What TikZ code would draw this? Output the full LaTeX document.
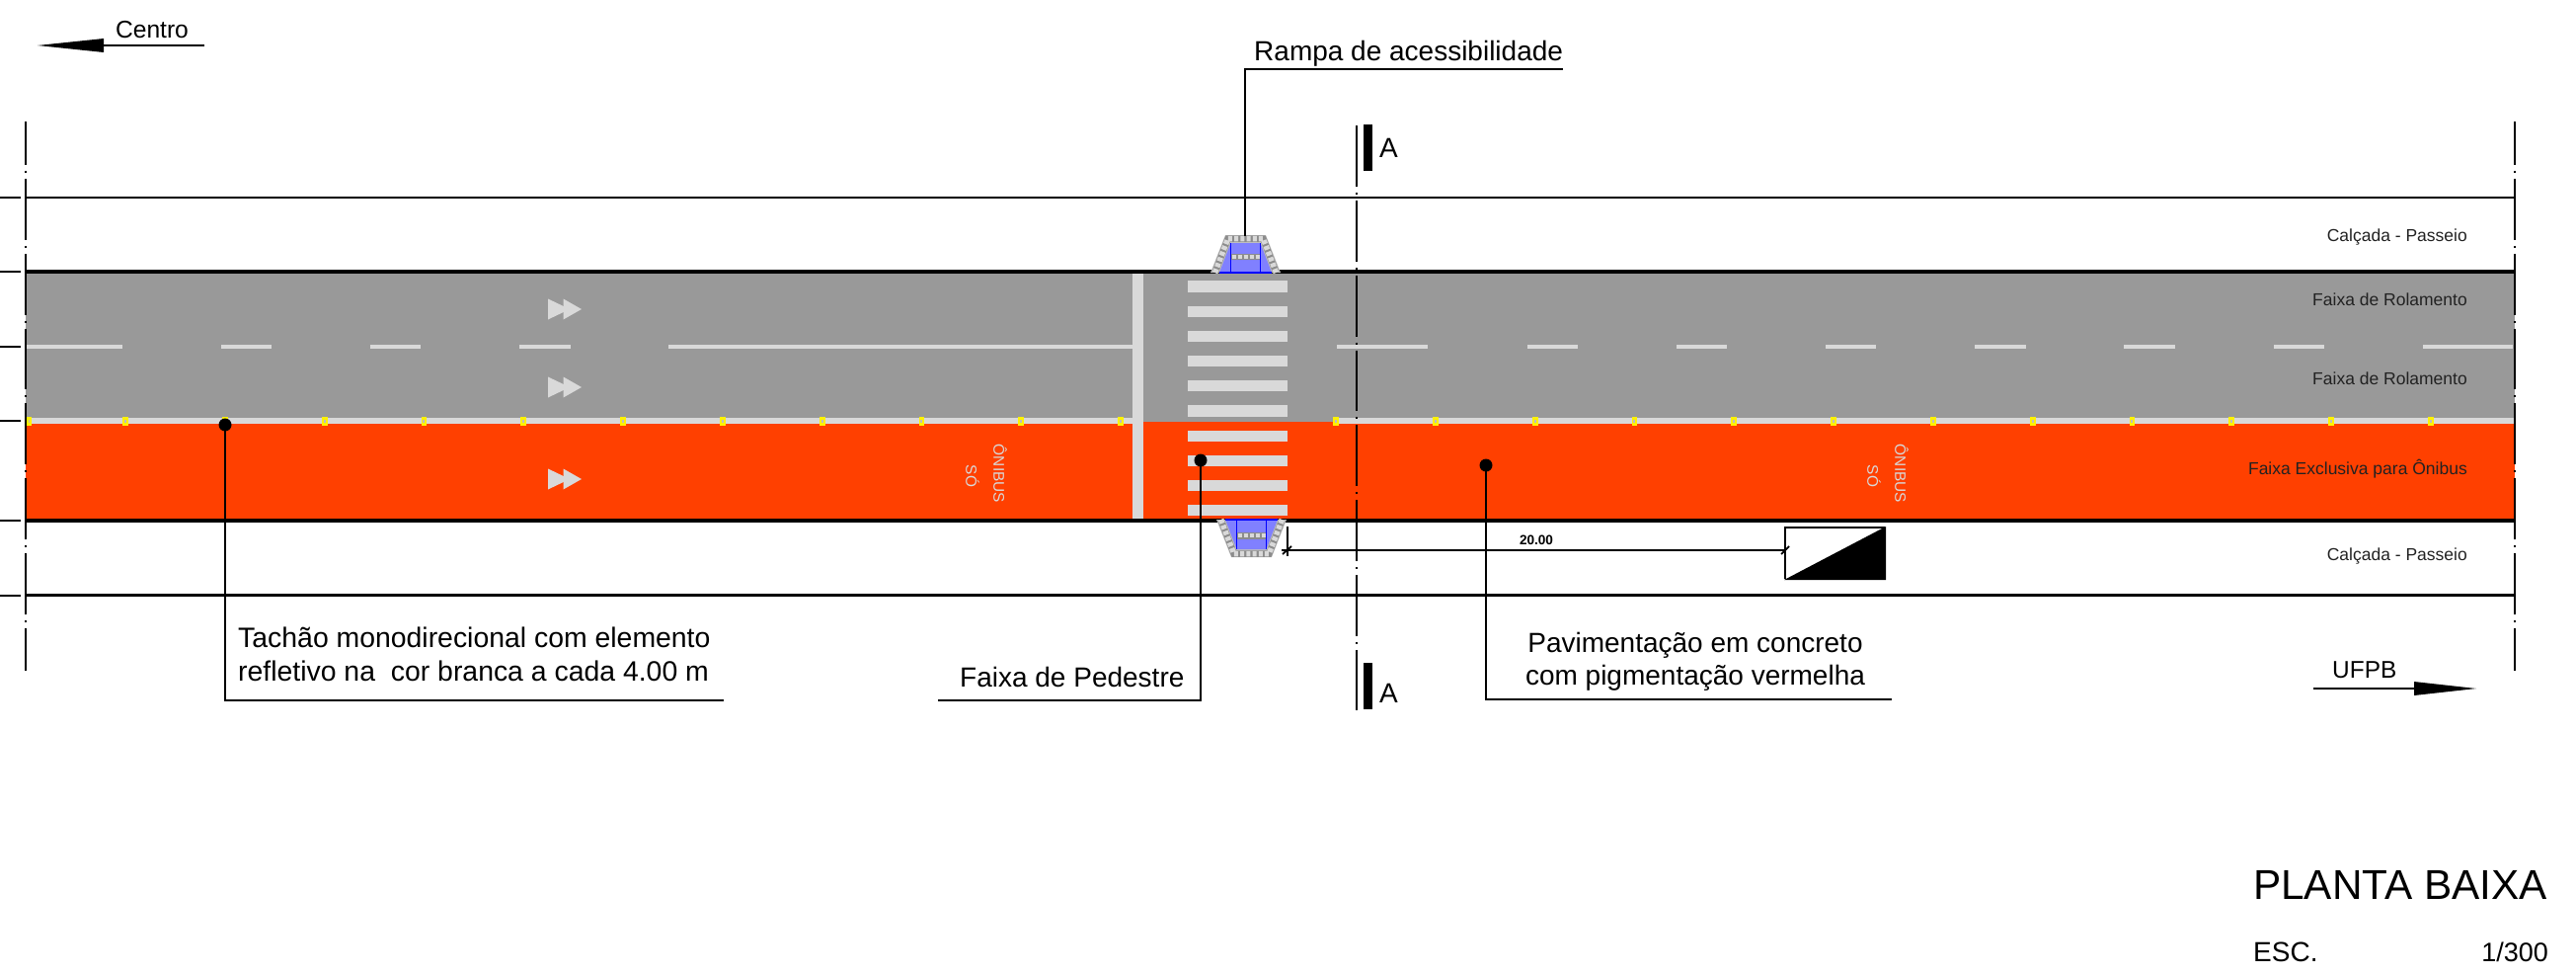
\documentclass[tikz,border=0pt]{standalone}
\usepackage{fontspec}
\setmainfont{Liberation Sans}
\definecolor{asfalto}{HTML}{999999}
\definecolor{onibus}{HTML}{FF4000}
\definecolor{marca}{HTML}{D9D9D9}
\definecolor{rampa}{HTML}{8080FF}
\definecolor{textoesc}{HTML}{222222}
\tikzset{
  thinline/.style={line width=2.2pt,black},
  kerbline/.style={line width=4pt,black},
  leader/.style={line width=1.8pt,black},
  axisline/.style={line width=2pt,black},
  dashmark/.style={line width=4pt,marca},
  sepmark/.style={line width=6.5pt,marca},
  bigtext/.style={inner sep=0pt,font=\fontsize{28}{33}\selectfont},
  tachtext/.style={inner sep=0pt,font=\fontsize{28.4}{33}\selectfont},
  smalltext/.style={inner sep=0pt,anchor=base east,text=textoesc,font=\fontsize{17.5}{20}\selectfont},
  rotext/.style={inner sep=0pt,rotate=-90,text=marca,font=\fontsize{15.4}{18}\selectfont},
  rampa shape/.pic={
    \fill[marca!70!gray] (-35.5,0) -- (-20.5,-38) -- (20.5,-38) -- (35.5,0) -- cycle;
    \fill[rampa] (-26.5,0) -- (-15,-30) -- (15,-30) -- (26.5,0) -- cycle;
    \draw[line width=6.5pt,gray!90] (-31,0) -- (-17.8,-34.5) -- (17.8,-34.5) -- (31,0);
    \draw[line width=5.5pt,marca,dash pattern=on 4pt off 2.2pt] (-31,0) -- (-17.8,-34.5) -- (17.8,-34.5) -- (31,0);
    \fill[gray!90] (-15,-19.5) rectangle (15,-13);
    \draw[line width=4.5pt,marca,dash pattern=on 4pt off 2pt] (-14,-16.2) -- (15,-16.2);
    \draw[line width=1.8pt,blue] (-15,0) -- (-15,-30) (15,0) -- (15,-30) (-26.5,0) -- (26.5,0);
  }
}
\begin{document}
\begin{tikzpicture}[x=1pt,y=-1pt]
\useasboundingbox (0,0) rectangle (2609,987);
% road surfaces
\fill[asfalto] (26,275) rectangle (2547,427);
\fill[onibus] (26,427) rectangle (2547,527);
% centre dashes
\foreach \a/\b in {27/124,224/275,375/426,526/578,677/1147,1354/1446,1547/1598,1698/1749,1849/1900,2000/2052,2151/2203,2303/2354,2454/2545}
  \draw[dashmark] (\a,351) -- (\b,351);
% separator of the bus lane
\draw[sepmark] (26,426) -- (1147,426);
\draw[sepmark] (1353,426) -- (2547,426);
% stop bar
\fill[marca] (1147,275) rectangle (1158,527);
% pedestrian crossing
\foreach \k in {0,...,9}
  \fill[marca] (1203,284.3+25.2*\k) rectangle (1304,295.5+25.2*\k);
% studs
\foreach \k in {0,...,10} {
  \fill[yellow] (1135-100.8*\k-2.9,422) rectangle (1135-100.8*\k+2.9,430.5);
  \fill[marca!70!gray] (1135-100.8*\k-1,424.5) rectangle (1135-100.8*\k+1,428);
}
\fill[yellow] (26.5,422) rectangle (32,430.5);
\fill[marca!70!gray] (28.5,424.5) rectangle (30.3,428);
\foreach \k in {0,...,11} {
  \fill[yellow] (1353+100.8*\k-2.9,422) rectangle (1353+100.8*\k+2.9,430.5);
  \fill[marca!70!gray] (1353+100.8*\k-1,424.5) rectangle (1353+100.8*\k+1,428);
}
% lane chevrons
\foreach \y in {313,392,485} {
  \fill[marca] (555,\y-10.5) -- (577,\y) -- (555,\y+10.5) -- cycle;
  \fill[marca] (570.5,\y-10.5) -- (589,\y) -- (570.5,\y+10.5) -- cycle;
}
% bus-lane words
\node[rotext] (onibusA) at (1013,479.5) {ÔNIBUS};
\node[rotext] (soA) at (985,482) {SÓ};
\node[rotext] (onibusB) at (1926,479.5) {ÔNIBUS};
\node[rotext] (soB) at (1898,482) {SÓ};
% kerbs and sidewalks
\draw[kerbline] (26,275) -- (2547,275);
\draw[kerbline] (26,527) -- (2547,527);
\draw[thinline] (26,200) -- (2547,200);
\draw[thinline] (26,602.5) -- (2547,602.5);
% ramps
\pic at (1261.5,276) {rampa shape};
\pic[yscale=-1] at (1267.5,526) {rampa shape};
% axis ticks
\foreach \y in {200,275,351,426,527,602.5}
  \draw[axisline] (0,\y) -- (21,\y);
% axis lines
\foreach \x in {26,2547}
  \draw[axisline,dash pattern=on 61.8pt off 6pt on 2pt off 6pt,dash phase=17.8pt] (\x,123) -- (\x,679);
\draw[axisline,dash pattern=on 61.8pt off 6pt on 2pt off 6pt] (1373.5,127.2) -- (1373.5,719);
% section marks
\fill (1380.5,126) rectangle (1389.5,173);
\fill (1380.5,671) rectangle (1389.5,718);
\node[bigtext,anchor=base west] (secA) at (1397,159.5) {A};
\node[bigtext,anchor=base west] (secB) at (1397,711.5) {A};
% direction arrows
\node[inner sep=0pt,anchor=base,font=\fontsize{24.6}{28}\selectfont] (centro) at (154,38.5) {Centro};
\coordinate (centroTail) at (207,46);
\coordinate (centroBase) at (105,46);
\draw[leader] (centroTail) -- (centroBase);
\fill (38,46) -- (105,39) -- (105,53) -- cycle;
\node[inner sep=0pt,anchor=base west,font=\fontsize{24.4}{28}\selectfont] (ufpb) at (2362,686) {UFPB};
\coordinate (ufpbTail) at (2343,697);
\coordinate (ufpbBase) at (2445,697);
\draw[leader] (ufpbTail) -- (ufpbBase);
\fill (2508,697) -- (2445,690) -- (2445,704) -- cycle;
% lane names
\node[smalltext] (calcadaA) at (2499,244) {Calçada - Passeio};
\node[smalltext] (rolA) at (2499,309) {Faixa de Rolamento};
\node[smalltext] (rolB) at (2499,389) {Faixa de Rolamento};
\node[smalltext] (excl) at (2499,480) {Faixa Exclusiva para Ônibus};
\node[smalltext] (calcadaB) at (2499,567) {Calçada - Passeio};
% callouts
\node[bigtext,anchor=base west] (ramptxt) at (1270,62) {Rampa de acessibilidade};
\coordinate (rampEnd) at (1583,70);
\coordinate (rampKnee) at (1261,70);
\coordinate (rampFoot) at (1261,239);
\draw[leader] (rampEnd) -- (rampKnee) -- (rampFoot);
\node[tachtext,anchor=base west] (tachaoA) at (241,655) {Tachão monodirecional com elemento};
\node[tachtext,anchor=base west] (tachaoB) at (241,689) {refletivo na\ \ cor branca a cada 4.00 m};
\coordinate (tachaoDot) at (228,430);
\coordinate (tachaoEnd) at (733,709);
\fill (tachaoDot) circle (6.5);
\draw[leader] (tachaoDot) |- (tachaoEnd);
\node[bigtext,anchor=base west] (pedtxt) at (972,695) {Faixa de Pedestre};
\coordinate (pedDot) at (1216,466);
\coordinate (pedEnd) at (950,709);
\fill (pedDot) circle (6.5);
\draw[leader] (pedDot) |- (pedEnd);
\node[bigtext,anchor=base] (pavA) at (1717,660) {Pavimentação em concreto};
\node[bigtext,anchor=base] (pavB) at (1717,693) {com pigmentação vermelha};
\coordinate (pavDot) at (1505,471);
\coordinate (pavEnd) at (1916,708);
\fill (pavDot) circle (6.5);
\draw[leader] (pavDot) |- (pavEnd);
% dimension and slope box
\coordinate (dimL) at (1304,557);
\coordinate (dimR) at (1808,557);
\draw[leader] (dimL) ++(-6,0) -- (dimR);
\draw[leader] (1304,533) -- (1304,563);
\draw[leader] (1299,561) -- (1308,553);
\draw[leader] (1804,561) -- (1812,553);
\node[inner sep=0pt,anchor=base,font=\fontsize{13.6}{16}\selectfont\bfseries] (dimtxt) at (1556,551) {20.00};
\draw[line width=2pt] (1909,534) -- (1808,534) -- (1808,586);
\fill (1807,587) -- (1910,533) -- (1910,587) -- cycle;
% title block
\node[inner sep=0pt,anchor=base west,font=\fontsize{42.3}{48}\selectfont] (titulo) at (2282,910) {PLANTA BAIXA};
\node[inner sep=0pt,anchor=base west,font=\fontsize{28}{32}\selectfont] (esc) at (2282,973) {ESC.};
\node[inner sep=0pt,anchor=base east,font=\fontsize{27}{32}\selectfont] (escala) at (2581,973) {1/300};
\end{tikzpicture}
\end{document}
